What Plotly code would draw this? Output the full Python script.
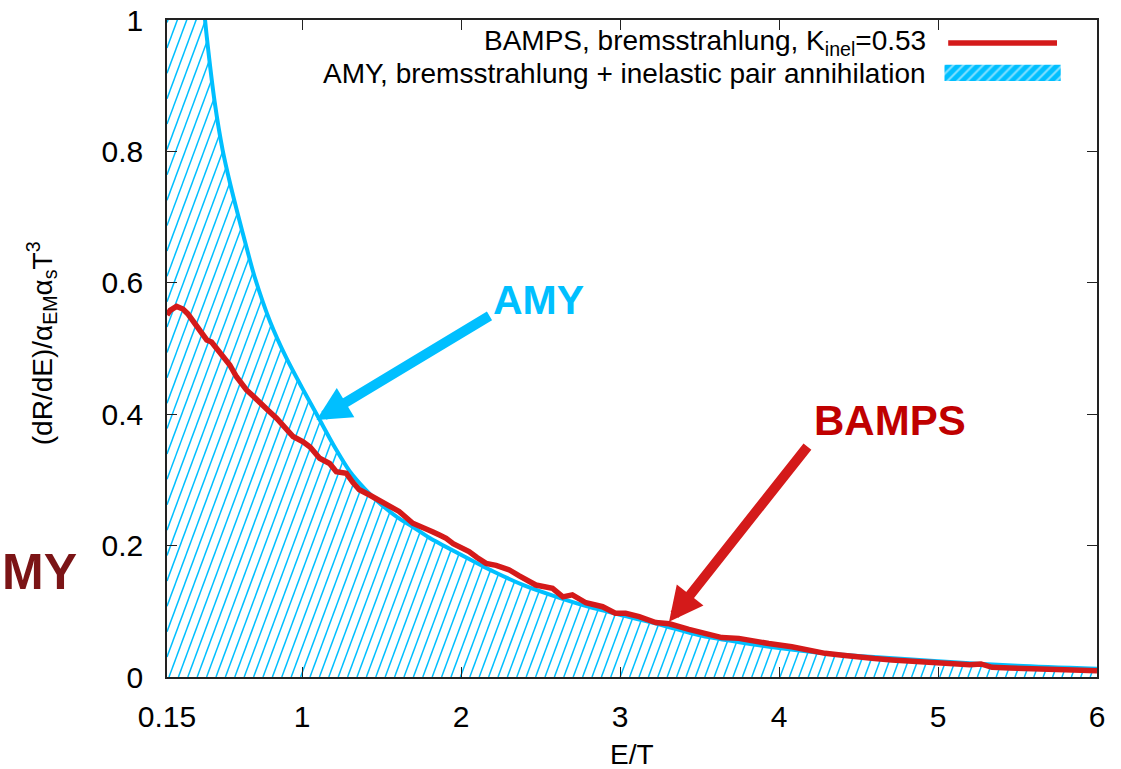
import numpy as np
import plotly.graph_objects as go

# ---- data -------------------------------------------------------------
# AMY rate (bremsstrahlung + inelastic pair annihilation)
amy_E = [0.38, 0.40, 0.45, 0.50, 0.55, 0.60, 0.65, 0.70, 0.80, 0.90, 1.00,
         1.10, 1.20, 1.30, 1.40, 1.50, 1.60, 1.70, 1.80, 2.00, 2.20, 2.40,
         2.60, 2.80, 3.00, 3.25, 3.50, 3.75, 4.00, 4.25, 4.50, 5.00, 5.50, 6.00]
amy_R = [1.024, 0.975, 0.875, 0.802, 0.748, 0.700, 0.654, 0.610, 0.540, 0.486, 0.440,
         0.396, 0.352, 0.313, 0.285, 0.262, 0.243, 0.228, 0.212, 0.186, 0.161, 0.139,
         0.122, 0.107, 0.0945, 0.080, 0.0635, 0.053, 0.044, 0.037, 0.032, 0.024, 0.017, 0.0125]

# BAMPS bremsstrahlung, K_inel = 0.53
bamps_E = [0.15, 0.17, 0.21, 0.25, 0.28, 0.336, 0.37, 0.40, 0.43, 0.47, 0.504, 0.545,
           0.587, 0.62, 0.65, 0.69, 0.734, 0.78, 0.839, 0.89, 0.943, 1.006, 1.05, 1.11,
           1.173, 1.215, 1.278, 1.32, 1.36, 1.424, 1.48, 1.53, 1.61, 1.696, 1.75, 1.82,
           1.864, 1.906, 1.95, 2.05, 2.10, 2.157, 2.22, 2.303, 2.366, 2.42, 2.47, 2.575,
           2.64, 2.70, 2.785, 2.89, 2.97, 3.035, 3.12, 3.224, 3.31, 3.433, 3.54, 3.64,
           3.747, 3.85, 3.935, 4.08, 4.18, 4.29, 4.40, 4.50, 4.60, 4.71, 4.82, 4.92,
           5.03, 5.13, 5.20, 5.27, 5.34, 5.45, 5.55, 5.65, 5.76, 5.86, 5.96, 6.00]
bamps_R = [0.551, 0.558, 0.564, 0.560, 0.553, 0.533, 0.522, 0.513, 0.510, 0.497, 0.4875, 0.475,
           0.457, 0.446, 0.437, 0.428, 0.419, 0.407, 0.394, 0.380, 0.366, 0.358, 0.350, 0.333,
           0.325, 0.3125, 0.310, 0.296, 0.285, 0.277, 0.270, 0.262, 0.252, 0.234, 0.229, 0.221,
           0.216, 0.211, 0.203, 0.191, 0.182, 0.173, 0.170, 0.163, 0.154, 0.147, 0.140, 0.135,
           0.122, 0.125, 0.113, 0.107, 0.097, 0.097, 0.092, 0.083, 0.081, 0.0725, 0.0655, 0.060,
           0.0588, 0.054, 0.051, 0.046, 0.041, 0.036, 0.033, 0.030, 0.028, 0.026, 0.024, 0.0223,
           0.020, 0.018, 0.0185, 0.0198, 0.0147, 0.0138, 0.013, 0.0123, 0.0116, 0.0105, 0.0096, 0.0094]

x_ticks = [0.15, 1, 2, 3, 4, 5, 6]
x_tick_text = ["0.15", "1", "2", "3", "4", "5", "6"]
y_ticks = [0, 0.2, 0.4, 0.6, 0.8, 1]
y_tick_text = ["0", "0.2", "0.4", "0.6", "0.8", "1"]

legend_bamps = "BAMPS, bremsstrahlung, K<sub>inel</sub>=0.53"
legend_amy = "AMY, bremsstrahlung + inelastic pair annihilation"

# ---- layout constants -------------------------------------------------
W, H = 1121, 769
M_L, M_R, M_T, M_B = 167, 24, 20, 92
PW, PH = W - M_L - M_R, H - M_T - M_B
X_RANGE = [0.15, 6.0]
Y_RANGE = [0.0, 1.0]

BLUE = "#00BFFF"
RED = "#D41A1A"
FONT = "Liberation Sans, Arial, Helvetica, sans-serif"

# ---- hatching under the AMY curve (computed in pixel space) -----------
HATCH_STEP = 9.4    # horizontal distance between hatch lines, px
HATCH_SLOPE = 2.7   # rise per px of run
HATCH_PHASE = 2.0

def to_px_x(e):
    return (np.asarray(e) - X_RANGE[0]) / (X_RANGE[1] - X_RANGE[0]) * PW

def to_px_y(r):
    return (np.asarray(r) - Y_RANGE[0]) / (Y_RANGE[1] - Y_RANGE[0]) * PH

def from_px_x(px):
    return X_RANGE[0] + px / PW * (X_RANGE[1] - X_RANGE[0])

def from_px_y(py):
    return Y_RANGE[0] + py / PH * (Y_RANGE[1] - Y_RANGE[0])

amy_px_x = to_px_x(amy_E)
amy_px_y = to_px_y(amy_R)

def upper_px(X):
    # curve height in px; above the top edge left of the first sample
    c = np.interp(X, amy_px_x, amy_px_y, left=1e6, right=amy_px_y[-1])
    return np.minimum(c, PH + 2)

hx, hy = [], []
k_min = int(np.floor((-(PH + 2) / HATCH_SLOPE - HATCH_PHASE) / HATCH_STEP))
k_max = int(np.ceil((PW - HATCH_PHASE) / HATCH_STEP))
for k in range(k_min, k_max + 1):
    x0 = HATCH_PHASE + k * HATCH_STEP
    xs = max(x0, 0.0)
    ys = HATCH_SLOPE * (xs - x0)
    if ys >= upper_px(xs) or xs > PW:
        continue
    X = np.linspace(xs, PW, 4000)
    Y = HATCH_SLOPE * (X - x0)
    above = np.nonzero(Y >= upper_px(X))[0]
    if len(above):
        i = above[0]
        if i > 0:
            # refine the crossing between samples i-1 and i
            d0 = upper_px(X[i - 1]) - Y[i - 1]
            d1 = upper_px(X[i]) - Y[i]
            f = d0 / (d0 - d1) if d0 != d1 else 0
            xe = X[i - 1] + f * (X[i] - X[i - 1])
        else:
            xe = X[0]
    else:
        xe = PW
    ye = HATCH_SLOPE * (xe - x0)
    hx += [from_px_x(xs), from_px_x(xe), None]
    hy += [from_px_y(ys), from_px_y(ye), None]

fig = go.Figure()

fig.add_trace(go.Scatter(x=hx, y=hy, mode="lines", line=dict(color=BLUE, width=1.5),
                         hoverinfo="skip", showlegend=False))
fig.add_trace(go.Scatter(x=amy_E, y=amy_R, mode="lines",
                         line=dict(color=BLUE, width=4, shape="spline", smoothing=0.8),
                         name="AMY", showlegend=False))
fig.add_trace(go.Scatter(x=bamps_E, y=bamps_R, mode="lines",
                         line=dict(color=RED, width=5.5, shape="linear"),
                         name="BAMPS", showlegend=False))

# key samples drawn on a unit overlay axis spanning the plot area
fig.add_trace(go.Scatter(x=[0.840, 0.957], y=[0.965, 0.965], xaxis="x2", yaxis="y2",
                         mode="lines", line=dict(color=RED, width=5.5),
                         hoverinfo="skip", showlegend=False))
fig.add_trace(go.Scatter(x=[0.836, 0.961, 0.961, 0.836, 0.836],
                         y=[0.907, 0.907, 0.932, 0.932, 0.907],
                         xaxis="x2", yaxis="y2", mode="lines", fill="toself",
                         line=dict(width=0, color=BLUE), fillcolor=BLUE,
                         fillpattern=dict(shape="/", fgcolor="white", bgcolor=BLUE,
                                          size=7, solidity=0.3),
                         hoverinfo="skip", showlegend=False))

axis_common = dict(showline=True, linecolor="#222", linewidth=1.5, mirror="ticks",
                   ticks="inside", ticklen=10, tickwidth=1.2, tickcolor="#222",
                   showgrid=False, zeroline=False, automargin=False,
                   tickfont=dict(family=FONT, size=30, color="black"))

fig.update_layout(
    width=W, height=H,
    margin=dict(l=M_L, r=M_R, t=M_T, b=M_B, autoexpand=False),
    paper_bgcolor="white", plot_bgcolor="white",
    showlegend=False,
    xaxis=dict(range=X_RANGE, tickvals=x_ticks, ticktext=x_tick_text,
               ticklabelstandoff=12, **axis_common),
    yaxis=dict(range=Y_RANGE, tickvals=y_ticks, ticktext=y_tick_text,
               ticklabelstandoff=16, **axis_common),
    xaxis2=dict(range=[0, 1], overlaying="x", anchor="y2", visible=False,
                fixedrange=True, automargin=False),
    yaxis2=dict(range=[0, 1], overlaying="y", anchor="x2", visible=False,
                fixedrange=True, automargin=False),
)

annotations = [
    # key text, right aligned next to the samples
    dict(text=legend_bamps, x=0.818, y=0.965, xanchor="right", yanchor="middle",
         font=dict(family=FONT, size=28, color="black")),
    dict(text=legend_amy, x=0.818, y=0.919, xanchor="right", yanchor="middle",
         font=dict(family=FONT, size=28, color="black")),
    # axis titles
    dict(text="E/T", x=0.5, y=-0.118, xanchor="center", yanchor="middle",
         font=dict(family=FONT, size=28, color="black")),
    dict(text="(dR/dE)/α<sub>EM</sub>α<sub>s</sub>T<sup>3</sup>", x=-0.1344, y=0.508,
         xanchor="center", yanchor="middle", textangle=-90,
         font=dict(family=FONT, size=28, color="black")),
    # curve labels
    dict(text="<b>AMY</b>", x=(538 - M_L) / PW, y=(M_T + PH - 300) / PH,
         xanchor="center", yanchor="middle",
         font=dict(family=FONT, size=41, color=BLUE)),
    dict(text="<b>BAMPS</b>", x=(890 - M_L) / PW, y=(M_T + PH - 420) / PH,
         xanchor="center", yanchor="middle",
         font=dict(family=FONT, size=42, color="#C00000")),
    dict(text="<b>MY</b>", x=(0 - M_L) / PW, y=(M_T + PH - 572) / PH,
         xanchor="left", yanchor="middle",
         font=dict(family=FONT, size=50, color="#7B1416")),
]
for a in annotations:
    a.update(xref="paper", yref="paper", showarrow=False)

# arrows pointing at the curves
annotations += [
    dict(text="", x=1.09, y=0.391, ax=2.188, ay=0.551, xref="x", yref="y",
         axref="x", ayref="y", showarrow=True, arrowhead=2, arrowsize=0.68,
         arrowwidth=10, arrowcolor=BLUE, standoff=0, startstandoff=0),
    dict(text="", x=3.308, y=0.0842, ax=4.186, ay=0.353, xref="x", yref="y",
         axref="x", ayref="y", showarrow=True, arrowhead=2, arrowsize=0.68,
         arrowwidth=10, arrowcolor=RED, standoff=0, startstandoff=0),
]
fig.update_layout(annotations=annotations)

fig.write_html("out.html")
